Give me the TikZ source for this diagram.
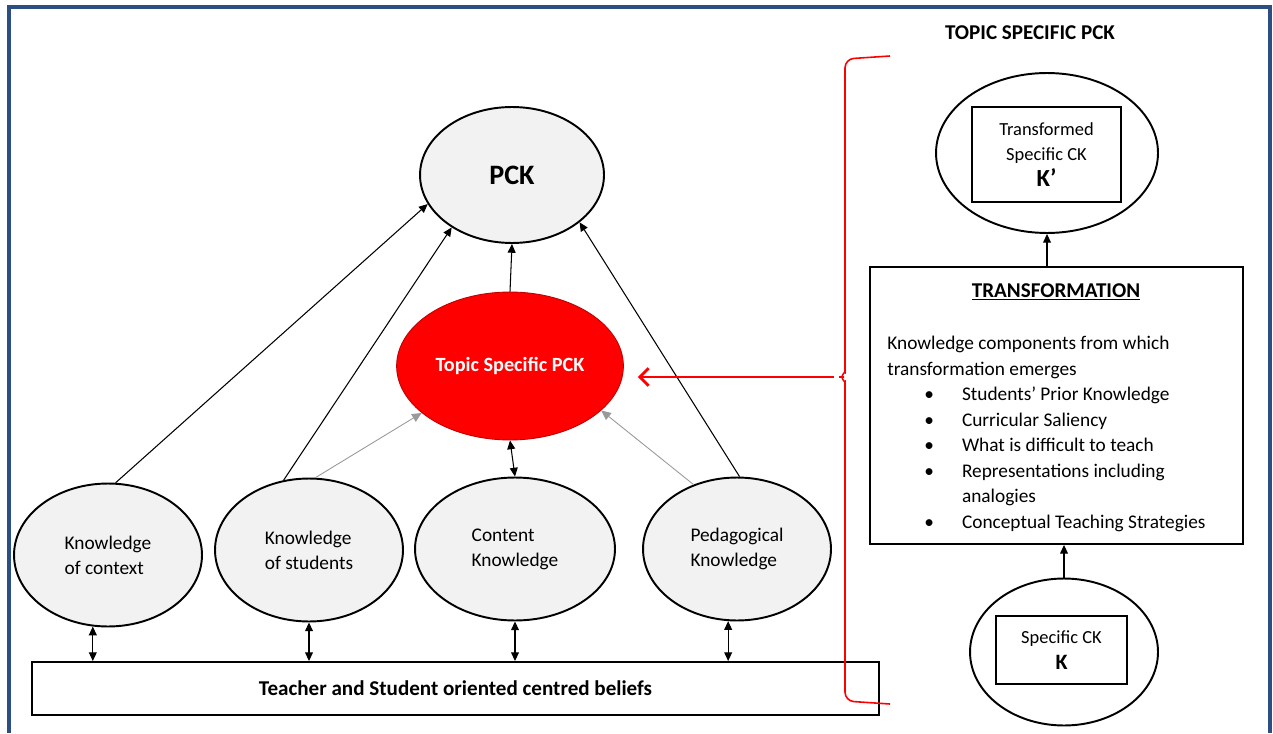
\documentclass[tikz,border=0pt]{standalone}
\usepackage{fontspec}
\setmainfont{Carlito}
\usetikzlibrary{arrows.meta, positioning, calc, shapes.geometric}
\definecolor{framecol}{RGB}{44,78,130}
\definecolor{ellfill}{RGB}{242,242,242}
\definecolor{pckred}{RGB}{255,0,0}

\begin{document}
\begin{tikzpicture}[x=0.02cm, y=-0.02cm, know/.style={ellipse,draw,line width=1.1pt,fill=ellfill,inner sep=0pt,align=left,minimum width=3.76cm,minimum height=2.86cm,font=\fontsize{11}{14.2}\selectfont}, box/.style={rectangle,draw,line width=1.1pt,inner sep=0pt}, thinarr/.style={->,line width=0.6pt}, greyarr/.style={->,line width=0.5pt,draw=gray!80,>={Triangle[length=5.5pt,width=5pt]}}, dblarr/.style={<->,line width=0.6pt}, >={Triangle[length=5pt,width=4.5pt]}]
    \useasboundingbox (0,0) rectangle (1273,733);
    \draw[framecol, line width=2.2pt] (9,733) -- (9,7) -- (1270,7) -- (1270,733);

    \node[ellipse,draw,line width=1.1pt,fill=ellfill,minimum width=3.68cm,minimum height=2.72cm,font=\fontsize{16}{18}\selectfont\bfseries] (pck) at (512,175) {PCK};
    \node[ellipse,draw=red!75!black,line width=0.5pt,fill=pckred,text=white,minimum width=4.28cm,minimum height=2.96cm,font=\fontsize{11.5}{13}\selectfont\bfseries] (tspck) at (510,366) {Topic Specific PCK};

    \node[know] (ctx) at (108,555) {Knowledge\\of context};
    \node[know] (stu) at (309,550) {Knowledge\\of students};
    \node[know, minimum width=4cm] (cont) at (515,549) {Content\\Knowledge};
    \node[know] (ped) at (737,549) {Pedagogical\\Knowledge};

    \node[box, minimum width=16.94cm, minimum height=1.06cm, font=\fontsize{12}{14}\selectfont\bfseries] (beliefs) at (455.5,688.5) {Teacher and Student oriented centred beliefs};

    \draw[thinarr] (ctx.84) -- (pck.199);
    \draw[thinarr] (stu.110) -- (pck.221);
    \draw[thinarr] (ped.88) -- (pck.325);
    \draw[thinarr] (tspck.north) -- (pck.south);
    \draw[greyarr] (stu.85) -- (tspck.208);
    \draw[greyarr] (ped.124) -- (tspck.334);
    \draw[dblarr] (tspck.south) -- (cont.north);
    \draw[dblarr] (ctx.258) -- (ctx.258 |- beliefs.north);
    \draw[dblarr] (stu.south) -- (stu.south |- beliefs.north);
    \draw[dblarr] (cont.south) -- (cont.south |- beliefs.north);
    \draw[dblarr] (ped.263) -- (ped.263 |- beliefs.north);

    \node[font=\fontsize{12}{14}\selectfont\bfseries] (title) at (1030,33) {TOPIC SPECIFIC PCK};

    \node[ellipse,draw,line width=1.1pt,minimum width=4.44cm,minimum height=3.2cm] (kprime) at (1047,153) {};
    \node[box, minimum width=2.98cm, minimum height=1.9cm, align=center, font=\fontsize{10.5}{14.7}\selectfont] (kpbox) at (1046.5,154.5) {Transformed\\Specific CK\\{\fontsize{14}{14}\selectfont\bfseries K'}};

    \node[box, minimum width=7.46cm, minimum height=5.54cm] (trans) at (1056.5,405.5) {};
    \node[font=\fontsize{12}{14}\selectfont\bfseries] (transtitle) at (1056,292) {\underline{TRANSFORMATION}};
    \node[anchor=north west, align=left, inner sep=0pt, font=\fontsize{11}{14.5}\selectfont] (complist) at (887,336) {Knowledge components from which\\transformation emerges\\
      \hspace*{21pt}\makebox[21.5pt][l]{\textbullet}Students' Prior Knowledge\\
      \hspace*{21pt}\makebox[21.5pt][l]{\textbullet}Curricular Saliency\\
      \hspace*{21pt}\makebox[21.5pt][l]{\textbullet}What is difficult to teach\\
      \hspace*{21pt}\makebox[21.5pt][l]{\textbullet}Representations including\\
      \hspace*{42.5pt}analogies\\
      \hspace*{21pt}\makebox[21.5pt][l]{\textbullet}Conceptual Teaching Strategies};

    \node[ellipse,draw,line width=1.1pt,minimum width=3.76cm,minimum height=2.94cm] (kbase) at (1064,652) {};
    \node[box, minimum width=2.62cm, minimum height=1.36cm, align=center, font=\fontsize{10.5}{14.5}\selectfont] (kbox) at (1061.5,650) {Specific CK\\{\fontsize{12.5}{14}\selectfont\bfseries K}};

    \draw[thinarr] (trans.north -| kprime.south) -- (kprime.south);
    \draw[thinarr] (kbase.north) -- (kbase.north |- trans.south);

    \coordinate (tip) at (834,377);
    \draw[pckred, line width=0.9pt, rounded corners=5pt] (890,56) -- (845,59) -- (845,364) to[out=-90,in=0] (tip) to[out=0,in=90] (845,390) -- (845,701) -- (890,704);
    \draw[pckred, line width=1.6pt, -{Straight Barb[length=5pt,width=10pt]}] (tip) -- ($(tip -| tspck.east)+(14,0)$);
\end{tikzpicture}
\end{document}
